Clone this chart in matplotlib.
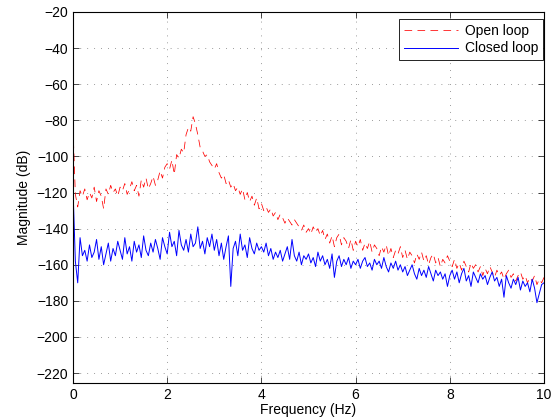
import numpy as np
import matplotlib
matplotlib.use("Agg")
import matplotlib.pyplot as plt

# frequency grid (Hz), one point every 0.05 Hz
freq = np.linspace(0, 10, 201)

# magnitude readings (dB), 20 values per Hz
open_loop = [
    -84, -121, -128, -119, -122, -118, -124, -120, -123, -117, -125, -119, -122, -129, -118, -121, -116, -120, -118, -122,
    -117, -119, -115, -121, -118, -114, -119, -116, -122, -113, -117, -112, -118, -115, -111, -116, -113, -108, -112, -106,
    -104, -107, -102, -110, -99, -101, -96, -98, -88, -84, -86, -78, -82, -88, -95, -97, -100, -99, -103, -105,
    -107, -104, -109, -112, -110, -115, -113, -117, -115, -119, -117, -121, -118, -124, -120, -125, -122, -127, -123, -129,
    -126, -130, -128, -131, -129, -133, -131, -135, -132, -134, -137, -134, -136, -138, -135, -137, -139, -141, -138, -142,
    -140, -143, -139, -142, -140, -144, -141, -146, -143, -148, -144, -150, -145, -143, -149, -145, -147, -151, -146, -152,
    -147, -150, -146, -152, -148, -151, -147, -153, -149, -151, -155, -150, -153, -149, -155, -151, -156, -152, -154, -150,
    -156, -152, -157, -153, -155, -159, -154, -157, -153, -158, -155, -160, -156, -154, -159, -156, -161, -157, -159, -155,
    -158, -161, -157, -162, -159, -163, -158, -161, -164, -159, -162, -160, -164, -161, -166, -162, -165, -161, -164, -167,
    -163, -166, -164, -168, -165, -163, -167, -165, -169, -166, -164, -168, -166, -170, -167, -169, -166, -171, -168, -170,
    -167,
]

closed_loop = [
    -118, -158, -170, -145, -155, -152, -158, -149, -156, -153, -146, -157, -150, -160, -154, -148, -158, -151, -155, -147,
    -152, -157, -145, -154, -150, -158, -147, -153, -149, -156, -144, -152, -155, -148, -153, -146, -151, -157, -145, -150,
    -154, -142, -150, -147, -155, -141, -149, -152, -146, -153, -143, -150, -148, -139, -151, -147, -154, -145, -150, -143,
    -152, -146, -155, -148, -157, -150, -144, -172, -151, -147, -155, -143, -152, -149, -156, -145, -151, -154, -148, -152,
    -150, -153, -148, -155, -151, -157, -153, -156, -152, -158, -154, -150, -157, -146, -155, -158, -153, -160, -155, -157,
    -154, -159, -156, -161, -153, -158, -155, -160, -157, -162, -154, -167, -158, -155, -161, -157, -160, -156, -162, -158,
    -160, -157, -162, -158, -156, -161, -159, -163, -157, -160, -158, -162, -156, -161, -164, -159, -162, -158, -163, -160,
    -164, -161, -166, -163, -160, -165, -168, -162, -166, -163, -167, -161, -165, -169, -163, -166, -164, -168, -165, -172,
    -166, -163, -168, -164, -170, -165, -162, -169, -166, -172, -164, -167, -170, -165, -168, -166, -171, -167, -164, -169,
    -167, -172, -168, -178, -166, -170, -173, -168, -171, -167, -174, -169, -172, -170, -175, -168, -173, -181, -176, -171,
    -170,
]

yticks = list(range(-220, 0, 20))
xticks = [0, 2, 4, 6, 8, 10]

plt.rcParams["font.family"] = ["Liberation Sans", "DejaVu Sans"]
plt.rcParams["font.size"] = 10

fig = plt.figure(figsize=(5.54, 4.2), dpi=100)
ax = fig.add_axes([73 / 554, 37 / 420, 471 / 554, 371 / 420])

ax.plot(freq, open_loop, color="#ff0000", lw=0.55, dashes=(10, 7), label="Open loop")
ax.plot(freq, closed_loop, color="#0000ff", lw=0.7, label="Closed loop")

ax.set_xlim(0, 10)
ax.set_ylim(-225.5, -20)
ax.set_xticks(xticks)
ax.set_yticks(yticks)
ax.grid(True, color="0.25", lw=0.5, linestyle=(0, (1, 9)))
ax.tick_params(direction="in", length=4, width=0.5, top=True, right=True, pad=3.5)
for s in ax.spines.values():
    s.set_linewidth(0.8)

ax.set_xlabel("Frequency (Hz)", labelpad=1)
ax.set_ylabel("Magnitude (dB)", labelpad=4)

leg = ax.legend(loc="upper right", bbox_to_anchor=(0.998, 0.981), borderaxespad=0,
                fancybox=False, edgecolor="black", framealpha=1, handlelength=3.9,
                handletextpad=0.5, labelspacing=0.25, borderpad=0.35)
leg.get_frame().set_linewidth(0.6)

fig.savefig("out.png", dpi=100)
